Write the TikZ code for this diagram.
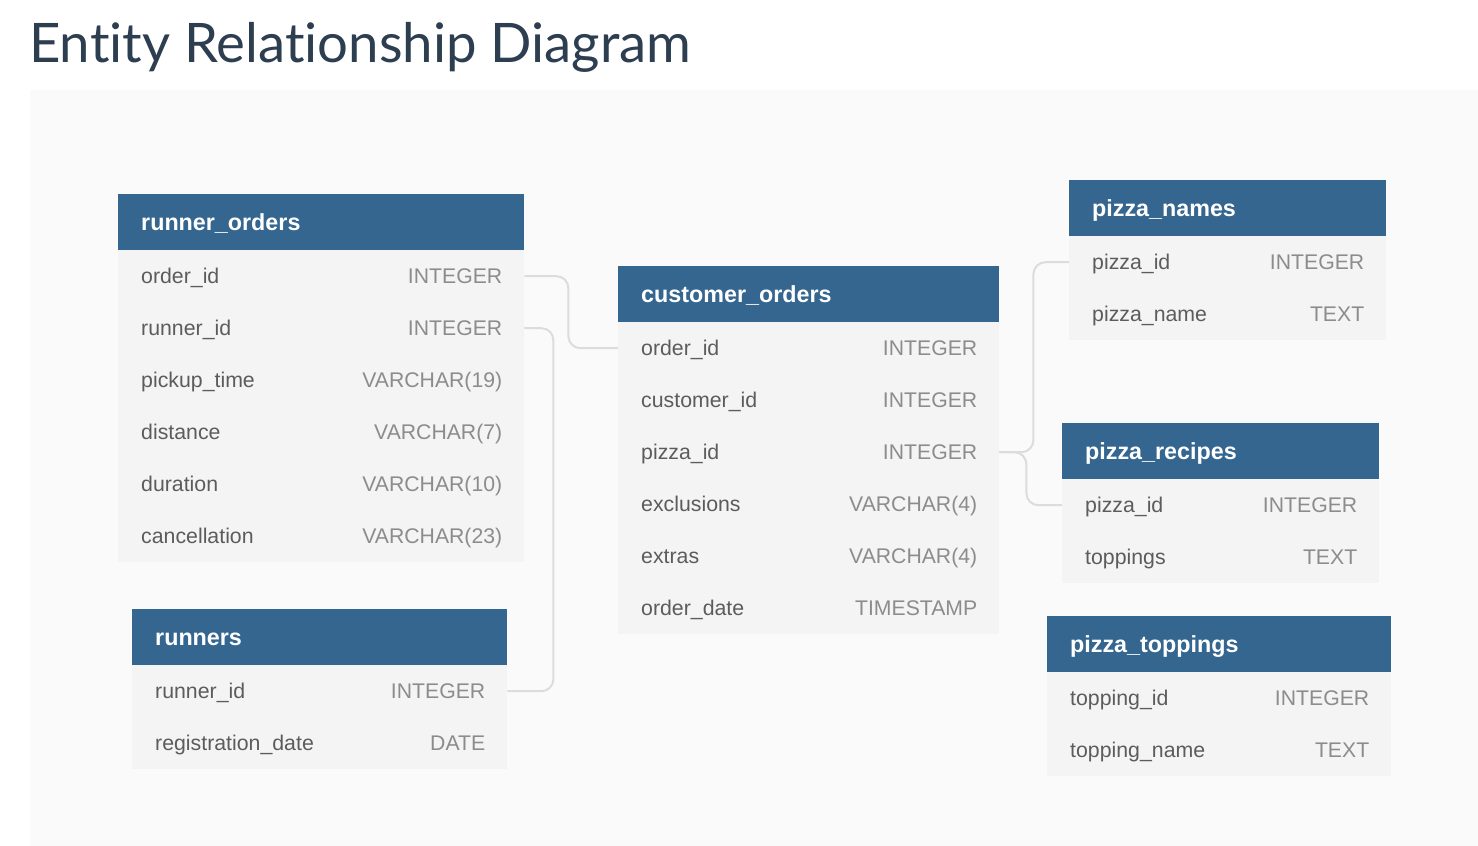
\documentclass[tikz,border=0pt]{standalone}
\usepackage{fontspec}
\setmainfont{Liberation Sans}
\newfontfamily\titlefont[Ligatures=NoCommon]{Lato}
\definecolor{panel}{HTML}{FAFAFA}
\definecolor{bodybg}{HTML}{F4F4F4}
\definecolor{hdrbg}{HTML}{34668F}
\definecolor{fieldc}{HTML}{5C5C5C}
\definecolor{typec}{HTML}{8C8C8C}
\definecolor{titlec}{HTML}{2C3E50}
\definecolor{linkc}{HTML}{DCDCDC}
\tikzset{
  rowbox/.style={draw=none,fill=bodybg,minimum height=52pt,inner sep=0pt,anchor=north west},
  hdrbox/.style={draw=none,fill=hdrbg,minimum height=56pt,inner sep=0pt,anchor=north west},
  fieldtxt/.style={text=fieldc,font=\fontsize{21.3}{25}\selectfont,inner sep=0pt,anchor=base west},
  typetxt/.style={text=typec,font=\fontsize{21.2}{25}\selectfont,inner sep=0pt,anchor=base east},
  hdrtxt/.style={text=white,font=\fontsize{23.3}{27}\selectfont\bfseries,inner sep=0pt,anchor=base west},
  link/.style={draw=linkc,line width=2pt,rounded corners=12pt}
}
\newcommand\ertrow[6]{%
  \node[rowbox,minimum width=#4 pt] (#1) at (#2,#3) {};
  \node[fieldtxt] (#1n) at ([xshift=23pt,yshift=-7.5pt]#1.west) {#5};
  \node[typetxt] (#1t) at ([xshift=-22pt,yshift=-7.5pt]#1.east) {#6};
}
\newcommand\erthdr[5]{%
  \node[hdrbox,minimum width=#4 pt] (#1) at (#2,#3) {};
  \node[hdrtxt] (#1n) at ([xshift=23pt,yshift=-8pt]#1.west) {#5};
}
\begin{document}
\begin{tikzpicture}[x=1pt,y=-1pt]
\useasboundingbox (0,0) rectangle (1478,846);
\fill[white] (0,0) rectangle (1478,846);
\fill[panel] (30,90) rectangle (1478,846);
\node[text=titlec,font=\titlefont\fontsize{54.5}{62}\selectfont,inner sep=0pt,anchor=base west] (title) at (29,62) {Entity Relationship Diagram};

% runner_orders
\erthdr{ro}{118}{194}{406}{runner\_orders}
\ertrow{roa}{118}{250}{406}{order\_id}{INTEGER}
\ertrow{rob}{118}{302}{406}{runner\_id}{INTEGER}
\ertrow{roc}{118}{354}{406}{pickup\_time}{VARCHAR(19)}
\ertrow{rod}{118}{406}{406}{distance}{VARCHAR(7)}
\ertrow{roe}{118}{458}{406}{duration}{VARCHAR(10)}
\ertrow{rof}{118}{510}{406}{cancellation}{VARCHAR(23)}

% runners
\erthdr{ru}{132}{609}{375}{runners}
\ertrow{rua}{132}{665}{375}{runner\_id}{INTEGER}
\ertrow{rub}{132}{717}{375}{registration\_date}{DATE}

% customer_orders
\erthdr{co}{618}{266}{381}{customer\_orders}
\ertrow{coa}{618}{322}{381}{order\_id}{INTEGER}
\ertrow{cob}{618}{374}{381}{customer\_id}{INTEGER}
\ertrow{coc}{618}{426}{381}{pizza\_id}{INTEGER}
\ertrow{cod}{618}{478}{381}{exclusions}{VARCHAR(4)}
\ertrow{coe}{618}{530}{381}{extras}{VARCHAR(4)}
\ertrow{cof}{618}{582}{381}{order\_date}{TIMESTAMP}

% pizza_names
\erthdr{pn}{1069}{180}{317}{pizza\_names}
\ertrow{pna}{1069}{236}{317}{pizza\_id}{INTEGER}
\ertrow{pnb}{1069}{288}{317}{pizza\_name}{TEXT}

% pizza_recipes
\erthdr{pr}{1062}{423}{317}{pizza\_recipes}
\ertrow{pra}{1062}{479}{317}{pizza\_id}{INTEGER}
\ertrow{prb}{1062}{531}{317}{toppings}{TEXT}

% pizza_toppings
\erthdr{pt}{1047}{616}{344}{pizza\_toppings}
\ertrow{pta}{1047}{672}{344}{topping\_id}{INTEGER}
\ertrow{ptb}{1047}{724}{344}{topping\_name}{TEXT}

% connectors
\draw[link] (roa.east) -- ++(44,0) |- (coa.west);
\draw[link] (rob.east) -- ++(29,0) |- (rua.east);
\draw[link] (coc.east) -- ++(34,0) |- (pna.west);
\draw[link] (coc.east) -- ++(27,0) |- (pra.west);
\end{tikzpicture}
\end{document}
